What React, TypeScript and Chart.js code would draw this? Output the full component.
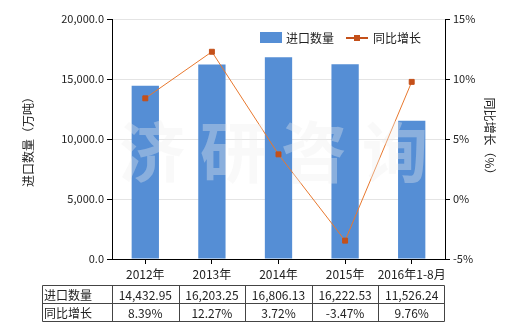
import React, { useEffect, useRef } from "react";
import { Chart, registerables } from "chart.js";
Chart.register(...registerables);

const categories = ["2012年", "2013年", "2014年", "2015年", "2016年1-8月"];
const importVolume = [14432.95, 16203.25, 16806.13, 16222.53, 11526.24];
const yoyGrowth = [8.39, 12.27, 3.72, -3.47, 9.76];
const seriesNames = ["进口数量", "同比增长"];
const leftTitle = "进口数量（万吨）";
const rightTitle = "同比增长（%）";
const watermark = "济研咨询";

const FONT = "'Noto Sans CJK SC', 'DejaVu Sans', sans-serif";
const BAR = "#558ED5";
const LINE = "#E8782E";
const POINT = "#C4501A";

const fmtVol = (v: number) =>
  v.toLocaleString("en-US", { minimumFractionDigits: 2, maximumFractionDigits: 2 });
const fmtPct = (v: number) => v.toFixed(2) + "%";

const extrasPlugin = {
  id: "extras",
  afterDatasetsDraw(chart: any) {
    const ctx = chart.ctx;
    const a = chart.chartArea;
    ctx.save();
    ctx.font = `bold 66px ${FONT}`;
    ctx.fillStyle = "rgba(238,238,238,0.35)";
    ctx.textAlign = "center";
    ctx.textBaseline = "middle";
    ctx.fillText(watermark.split("").join(" "), (a.left + a.right) / 2 - 5, 152);
    ctx.restore();
  },
  afterDraw(chart: any) {
    const ctx = chart.ctx;
    const a = chart.chartArea;
    const x = chart.scales.x;
    ctx.save();
    // legend
    ctx.font = `12px ${FONT}`;
    ctx.textBaseline = "middle";
    ctx.textAlign = "left";
    const ly = 38;
    ctx.fillStyle = BAR;
    ctx.fillRect(260, 32, 22, 11);
    ctx.fillStyle = "#222";
    ctx.fillText(seriesNames[0], 286, ly);
    ctx.strokeStyle = POINT;
    ctx.lineWidth = 2;
    ctx.beginPath();
    ctx.moveTo(346, ly);
    ctx.lineTo(368, ly);
    ctx.stroke();
    ctx.fillStyle = POINT;
    ctx.fillRect(354, ly - 3, 6, 6);
    ctx.fillStyle = "#222";
    ctx.fillText(seriesNames[1], 373, ly);

    // table
    const top = 285, mid = 303, bot = 321;
    const left = 42;
    const right = a.right - 1;
    ctx.strokeStyle = "#444";
    ctx.lineWidth = 1;
    ctx.beginPath();
    ctx.rect(left + 0.5, top + 0.5, right - left, bot - top);
    ctx.moveTo(left, mid + 0.5);
    ctx.lineTo(right, mid + 0.5);
    ctx.moveTo(a.left + 0.5, top);
    ctx.lineTo(a.left + 0.5, bot);
    const n = categories.length;
    const step = (a.right - a.left) / n;
    for (let i = 1; i < n; i++) {
      const cx = Math.round(a.left + step * i) + 0.5;
      ctx.moveTo(cx, top);
      ctx.lineTo(cx, bot);
    }
    ctx.stroke();
    ctx.fillStyle = "#222";
    ctx.font = `12px ${FONT}`;
    ctx.textAlign = "left";
    ctx.fillText(seriesNames[0], left + 2, (top + mid) / 2 + 1);
    ctx.fillText(seriesNames[1], left + 2, (mid + bot) / 2 + 1);
    ctx.textAlign = "center";
    for (let i = 0; i < n; i++) {
      const cx = x.getPixelForValue(i);
      ctx.fillText(fmtVol(importVolume[i]), cx, (top + mid) / 2 + 1);
      ctx.fillText(fmtPct(yoyGrowth[i]), cx, (mid + bot) / 2 + 1);
    }
    ctx.restore();
  },
};

export default function App() {
  const ref = useRef<HTMLCanvasElement>(null);
  useEffect(() => {
    document.body.style.margin = "0";
    Chart.defaults.font.family = FONT;
    Chart.defaults.color = "#222";
    const chart = new Chart(ref.current!, {
      type: "bar",
      data: {
        labels: categories,
        datasets: [
          {
            type: "line",
            label: seriesNames[1],
            data: yoyGrowth,
            yAxisID: "y1",
            borderColor: LINE,
            borderWidth: 1,
            backgroundColor: POINT,
            pointBackgroundColor: POINT,
            pointBorderColor: POINT,
            pointStyle: "rect",
            pointRadius: 3.5,
            tension: 0,
            order: 0,
          } as any,
          {
            type: "bar",
            label: seriesNames[0],
            data: importVolume,
            yAxisID: "y",
            backgroundColor: BAR,
            barPercentage: 0.41,
            categoryPercentage: 1,
            order: 1,
          },
        ],
      },
      options: {
        responsive: false,
        animation: false,
        layout: { padding: { top: 19, left: 0, right: 0, bottom: 0 } },
        plugins: { legend: { display: false }, tooltip: { enabled: false } },
        scales: {
          x: {
            grid: { offset: false, drawOnChartArea: false, tickLength: 5, tickColor: "#000" },
            border: { color: "#000" },
            ticks: { font: { size: 12 }, padding: 3, maxRotation: 0, autoSkip: false },
            afterFit: (s: any) => { s.height = 71; },
          },
          y: {
            position: "left",
            min: 0,
            max: 20000,
            ticks: {
              stepSize: 5000,
              font: { size: 11 },
              padding: 3,
              callback: (v: any) =>
                Number(v).toLocaleString("en-US", { minimumFractionDigits: 1, maximumFractionDigits: 1 }),
            },
            grid: { color: "#e4e4e4", tickLength: 5, tickColor: "#000" },
            border: { color: "#000" },
            title: { display: true, text: leftTitle, font: { size: 12 }, padding: { top: 21, bottom: 0 } },
            afterFit: (s: any) => { s.width = 112; },
          },
          y1: {
            position: "right",
            min: -5,
            max: 15,
            ticks: { stepSize: 5, font: { size: 11 }, padding: 3, callback: (v: any) => v + "%" },
            grid: { drawOnChartArea: false, tickLength: 5, tickColor: "#000" },
            border: { color: "#000" },
            title: { display: true, text: rightTitle, font: { size: 12 }, padding: { top: 23, bottom: 0 } },
            afterFit: (s: any) => { s.width = 75; },
          },
        },
      },
      plugins: [extrasPlugin],
    });
    return () => chart.destroy();
  }, []);
  return <canvas ref={ref} width={520} height={330} style={{ display: "block" }} />;
}
